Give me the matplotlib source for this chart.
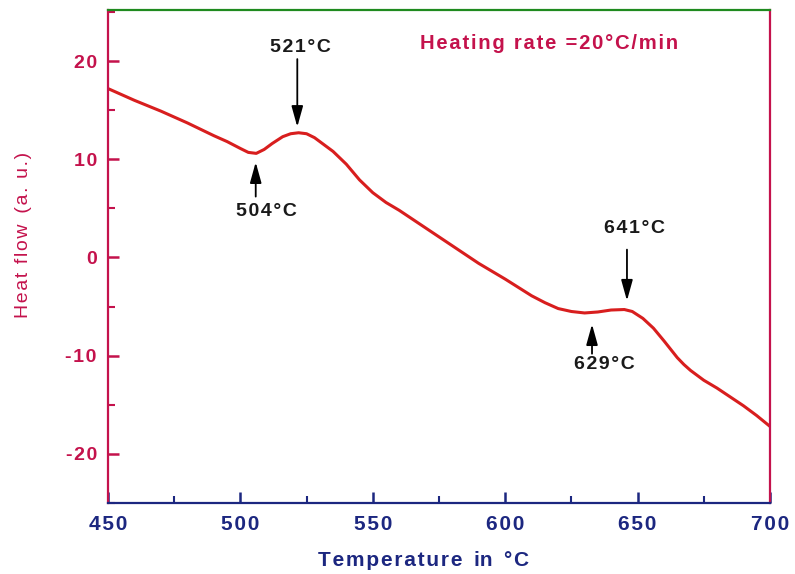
import numpy as np
import matplotlib
matplotlib.use("Agg")
import matplotlib.pyplot as plt
from matplotlib.ticker import MultipleLocator, FuncFormatter

plt.rcParams['font.family'] = ['Liberation Sans', 'DejaVu Sans']
plt.rcParams['axes.unicode_minus'] = False

# DSC curve
temperature = [450, 460, 470, 480, 490, 495, 500, 503, 506, 509, 512, 516, 519, 522,
               525, 528, 531, 535, 540, 545, 550, 555, 560, 570, 580, 590, 600,
               610, 615, 620, 625, 630, 635, 640, 645, 648, 652, 656, 660, 665,
               667.5, 670, 672.5, 675, 680, 685, 690, 695, 700]
heat_flow = [17.2, 16.0, 14.9, 13.7, 12.4, 11.8, 11.1, 10.7, 10.6, 11.0, 11.6, 12.3, 12.6, 12.7,
             12.6, 12.2, 11.6, 10.8, 9.5, 7.9, 6.6, 5.6, 4.8, 3.0, 1.2, -0.6, -2.2,
             -3.9, -4.6, -5.2, -5.5, -5.65, -5.55, -5.35, -5.3, -5.5, -6.2, -7.2, -8.5, -10.2,
             -10.9, -11.5, -12.0, -12.5, -13.3, -14.2, -15.1, -16.1, -17.2]

# peak labels: (text, arrow x, arrow tail y, arrow head y, text x, text y)
peak_labels = ["521°C", "504°C", "641°C", "629°C"]
arrow_x = [521.5, 505.8, 646.0, 632.8]
arrow_from = [20.2, 6.2, 0.8, -9.8]
arrow_to = [13.3, 9.7, -4.4, -6.8]
label_x = [522.5, 510.0, 649.0, 637.5]
label_y = [21.4, 4.7, 2.9, -10.9]

crimson = "#c4124c"
navy = "#1c2780"


def spaced(s, gap="\u200a"):
    # the original lettering is widely tracked
    return gap.join(s)


fig = plt.figure(figsize=(7.95, 5.74), dpi=100)
ax = fig.add_axes([0.1358, 0.1237, 0.8327, 0.8589])

ax.plot(temperature, heat_flow, color="#d81e1e", lw=2.2)

for txt, ax_x, y0, y1, tx, ty in zip(peak_labels, arrow_x, arrow_from, arrow_to, label_x, label_y):
    ax.annotate("", xy=(ax_x, y1), xytext=(ax_x, y0),
                arrowprops=dict(arrowstyle="-|>,head_width=0.25,head_length=0.9", color="black",
                                lw=1.3, mutation_scale=14, shrinkA=0, shrinkB=0))
    ax.text(tx, ty, spaced(txt), ha="center", va="center", fontsize=14,
            fontweight="bold", color="#1a1a1a")

ax.text(568, 21.8, spaced("Heating rate =20°C/min"), ha="left", va="center",
        fontsize=14.6, fontweight="bold", color=crimson)

ax.set_xlim(450, 700)
ax.set_ylim(-25, 25.2)
ax.xaxis.set_major_locator(MultipleLocator(50))
ax.xaxis.set_minor_locator(MultipleLocator(25))
ax.yaxis.set_major_locator(MultipleLocator(10))
ax.yaxis.set_minor_locator(MultipleLocator(5))
ax.set_yticks([-20, -10, 0, 10, 20])
ax.xaxis.set_major_formatter(FuncFormatter(lambda v, p: spaced("%d" % v)))
ax.yaxis.set_major_formatter(FuncFormatter(lambda v, p: spaced("%d" % v)))

ax.spines["left"].set_color(crimson)
ax.spines["right"].set_color(crimson)
ax.spines["top"].set_color("#1f8a1f")
ax.spines["bottom"].set_color(navy)
for s in ax.spines.values():
    s.set_linewidth(1.6)

ax.tick_params(axis="x", which="both", direction="in", colors=navy, top=False)
ax.tick_params(axis="y", which="both", direction="in", colors=crimson, right=False)
ax.tick_params(which="major", length=8, width=1.8)
ax.tick_params(which="minor", length=5, width=1.5)
ax.tick_params(axis="x", labelsize=15, pad=9)
ax.tick_params(axis="y", labelsize=14, pad=8)
for lab in ax.get_xticklabels() + ax.get_yticklabels():
    lab.set_fontweight("bold")

ax.set_xlabel(spaced("Temperature") + "  in  " + spaced("°C"),
              fontsize=15, fontweight="bold", color=navy, va="center")
ax.xaxis.set_label_coords(0.476, -0.116)
ax.set_ylabel(spaced("Heat flow") + "  " + spaced("(a. u.)"),
              fontsize=14, color=crimson, va="center")
ax.yaxis.set_label_coords(-0.128, 0.544)

fig.savefig("out.png", dpi=100, facecolor="white")
